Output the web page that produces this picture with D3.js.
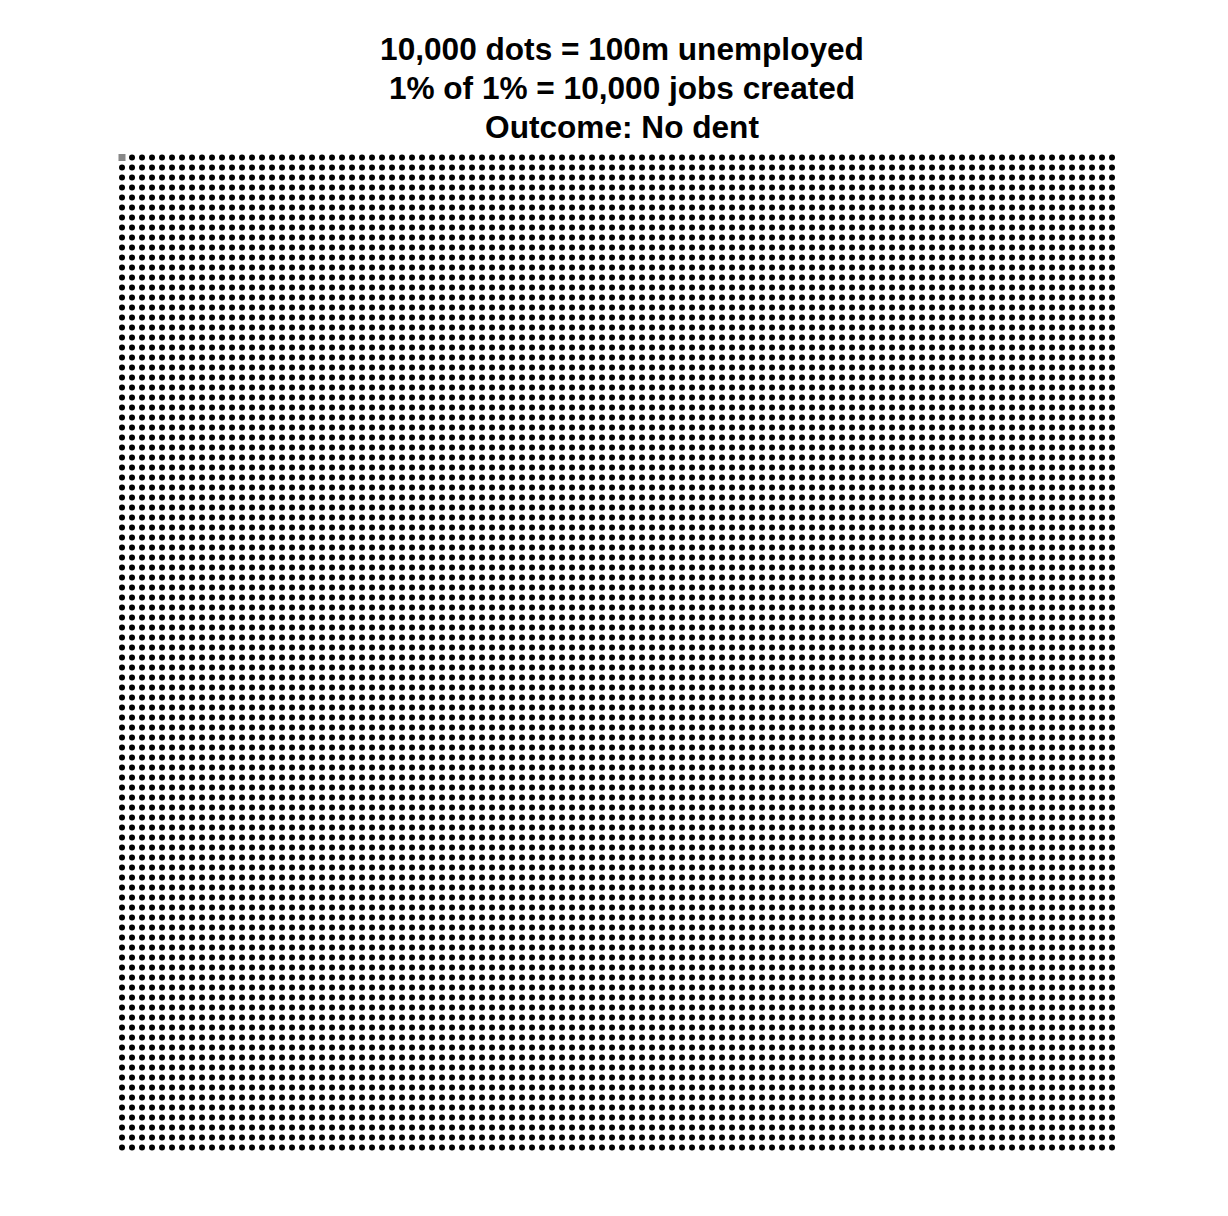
<!DOCTYPE html>
<html><head><meta charset="utf-8">
<script src="https://cdn.jsdelivr.net/npm/d3@7"></script>
<style>body{margin:0;background:#fff}svg{display:block}</style>
</head><body>
<script>
const titleLines = ["10,000 dots = 100m unemployed", "1% of 1% = 10,000 jobs created", "Outcome: No dent"];
const gridCols = 100;
const gridRows = 100;
const totalDots = 10000;      // each dot = 10,000 unemployed
const jobsCreatedDots = 1;    // 10,000 jobs created = 1 dot
const colors = {unemployed: "#000000", jobs: "#888888"};

const W = 1228, H = 1216;
const svg = d3.select("body").append("svg").attr("width", W).attr("height", H);

const x = d3.scaleLinear().domain([0, gridCols - 1]).range([122, 1112]);
const y = d3.scaleLinear().domain([0, gridRows - 1]).range([157.5, 1147.5]);

const dots = d3.range(totalDots).map(i => ({i, col: i % gridCols, row: Math.floor(i / gridCols), job: i < jobsCreatedDots}));

svg.append("g").selectAll("circle").data(dots.filter(d => !d.job)).join("circle")
  .attr("cx", d => x(d.col)).attr("cy", d => y(d.row)).attr("r", 3)
  .attr("fill", colors.unemployed);

svg.append("g").selectAll("rect").data(dots.filter(d => d.job)).join("rect")
  .attr("x", d => x(d.col) - 3.5).attr("y", d => y(d.row) - 3.5)
  .attr("width", 7).attr("height", 7).attr("fill", colors.jobs);

svg.append("g").selectAll("text").data(titleLines).join("text")
  .attr("x", 622).attr("y", (d, i) => 60 + i * 39)
  .attr("text-anchor", "middle")
  .attr("font-family", "Liberation Sans, Arial, sans-serif")
  .attr("font-weight", "bold").attr("font-size", 31.6)
  .attr("fill", "#000").text(d => d);
</script>
</body></html>
